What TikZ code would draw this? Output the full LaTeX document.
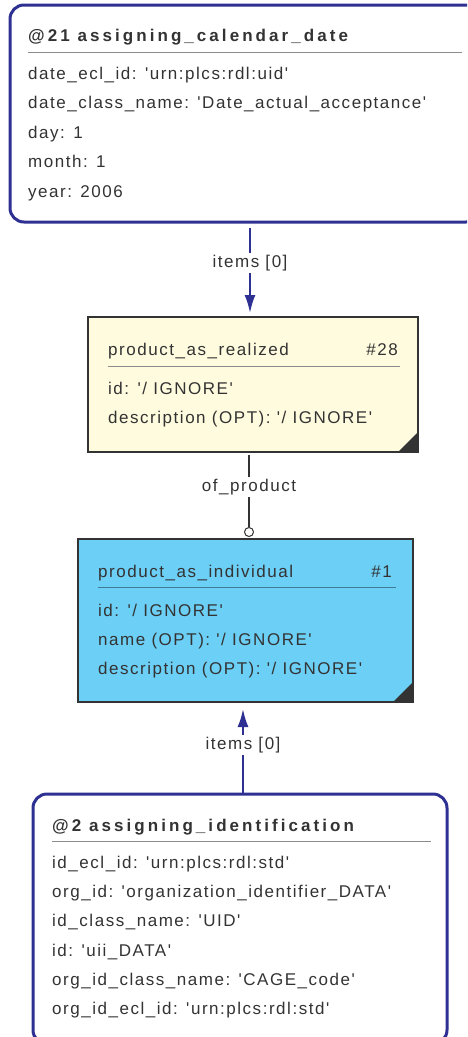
\documentclass[tikz,border=0pt]{standalone}
\usepackage{fontspec}
\newfontfamily\mf{Liberation Sans}[LetterSpace=9]
\newfontfamily\tf{Liberation Sans}[LetterSpace=18]
\usetikzlibrary{arrows.meta}
\definecolor{navy}{HTML}{2E3192}
\definecolor{txt}{HTML}{333333}
\definecolor{yel}{HTML}{FFFBDE}
\definecolor{sky}{HTML}{6CCFF6}
\definecolor{rulegray}{HTML}{8C8C8C}
\definecolor{ruleblue}{HTML}{3F7A96}
\begin{document}
\begin{tikzpicture}[x=1pt,y=-1pt,
  attr/.style={anchor=base west, inner sep=0pt, text=txt, font=\mf\fontsize{17}{20}\selectfont},
  ttl/.style={anchor=base west, inner sep=0pt, text=txt, font=\tf\fontsize{17}{20}\selectfont\bfseries},
  num/.style={anchor=base east, inner sep=0pt, text=txt, font=\mf\fontsize{17}{20}\selectfont},
  lbl/.style={fill=white, inner sep=2pt, text=txt, font=\mf\fontsize{17}{20}\selectfont},
  instbox/.style={draw=navy, line width=3pt, rounded corners=14pt, fill=white, anchor=north west, outer sep=0pt, inner sep=0pt},
  entbox/.style={draw=txt, line width=2pt, anchor=north west, outer sep=0pt, inner sep=0pt},
  conn/.style={draw=navy, line width=2pt, -{Latex[length=18pt,width=11pt]}},
]
\useasboundingbox (0,0) rectangle (467,1037);
\clip (0,0) rectangle (467,1037);

% boxes
\node[instbox, minimum width=470pt, minimum height=217pt] (acd) at (10,5) {};
\node[entbox, fill=yel, minimum width=330pt, minimum height=135pt] (par) at (88,317) {};
\node[entbox, fill=sky, minimum width=335pt, minimum height=163pt] (pai) at (78,539) {};
\node[instbox, minimum width=414pt, minimum height=250pt] (aid) at (33,794) {};

% corner marks
\fill[txt] (par.south east) -- ++(-20,0) -- ++(20,-20) -- cycle;
\fill[txt] (pai.south east) -- ++(-20,0) -- ++(20,-20) -- cycle;

% header rules
\draw[rulegray, line width=1pt] (28,52) -- (462,52);
\draw[rulegray, line width=1pt] (108,366) -- (400,366);
\draw[ruleblue, line width=1pt] (98,587) -- (396,587);
\draw[rulegray, line width=1pt] (52,841) -- (431,841);

% assigning_calendar_date
\node[ttl] (t1) at (28,41.5) {@21 assigning\_calendar\_date};
\node[attr] (a11) at (28,79) {date\_ecl\_id: 'urn:plcs:rdl:uid'};
\node[attr] (a12) at (28,108.5) {date\_class\_name: 'Date\_actual\_acceptance'};
\node[attr] (a13) at (28,138) {day: 1};
\node[attr] (a14) at (28,167.5) {month: 1};
\node[attr] (a15) at (28,197) {year: 2006};

% product_as_realized
\node[attr] (t2) at (108,355) {product\_as\_realized};
\node[num] (n2) at (398,355) {\#28};
\node[attr] (a21) at (108,394) {id: '/ IGNORE'};
\node[attr] (a22) at (108,423) {description (OPT): '/ IGNORE'};

% product_as_individual
\node[attr] (t3) at (98,577) {product\_as\_individual};
\node[num] (n3) at (392,577) {\#1};
\node[attr] (a31) at (98,616) {id: '/ IGNORE'};
\node[attr] (a32) at (98,645) {name (OPT): '/ IGNORE'};
\node[attr] (a33) at (98,674) {description (OPT): '/ IGNORE'};

% assigning_identification
\node[ttl] (t4) at (52,831) {@2 assigning\_identification};
\node[attr] (a41) at (52,868) {id\_ecl\_id: 'urn:plcs:rdl:std'};
\node[attr] (a42) at (52,897) {org\_id: 'organization\_identifier\_DATA'};
\node[attr] (a43) at (52,926.5) {id\_class\_name: 'UID'};
\node[attr] (a44) at (52,956) {id: 'uii\_DATA'};
\node[attr] (a45) at (52,985) {org\_id\_class\_name: 'CAGE\_code'};
\node[attr] (a46) at (52,1014) {org\_id\_ecl\_id: 'urn:plcs:rdl:std'};

% connectors
\coordinate (c1) at (250,0);
\coordinate (c2) at (249,0);
\coordinate (c3) at (243,0);
\draw[conn, shorten <=6pt, shorten >=4pt] (acd.south -| c1) -- (par.north -| c1);
\node[lbl] (l1) at (250,263) {items [0]};

\node[circle, draw=txt, fill=white, line width=1pt, minimum size=9pt, inner sep=0pt] (o2) at (249,532) {};
\draw[txt, line width=2pt, shorten <=3pt] (par.south -| c2) -- (o2.north);
\node[lbl] (l2) at (249,487) {of\_product};

\draw[conn, shorten >=7pt] (aid.north -| c3) -- (pai.south -| c3);
\node[lbl] (l3) at (243,745) {items [0]};
\end{tikzpicture}
\end{document}
